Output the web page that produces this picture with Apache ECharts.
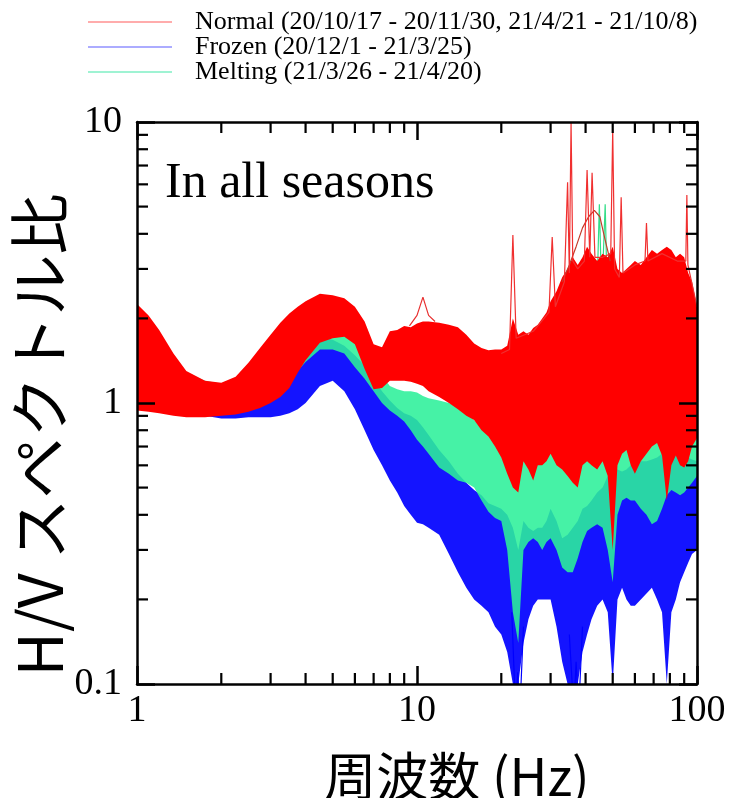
<!DOCTYPE html>
<html><head><meta charset="utf-8">
<script src="https://cdn.jsdelivr.net/npm/echarts@6/dist/echarts.min.js"></script>
<style>html,body{margin:0;padding:0;background:#fff}#c{width:731px;height:798px}</style>
</head><body><div id="c"></div>
<script>
// Frequency grid (Hz)
const freq = [1, 1.1, 1.2, 1.35, 1.5, 1.75, 2, 2.25, 2.5, 2.75,
  3, 3.25, 3.5, 3.75, 4, 4.5, 5, 5.5, 6, 6.5,
  7, 7.5, 8, 8.5, 9, 9.5, 10, 10.5, 11, 12,
  13, 14, 15, 16, 17, 18, 19, 20, 21, 22,
  23, 24, 25, 26, 27, 28, 29, 30, 31.5, 33,
  34.5, 36, 37.5, 39, 40.5, 42, 44, 46, 48, 50,
  52, 54, 56, 58, 60, 63, 66, 69, 72, 75,
  78, 81, 84, 87, 90, 93, 96, 100];

// Normal (red) envelope of the H/V curves
const normalUpper = [2.25, 2.05, 1.82, 1.5, 1.3, 1.2, 1.18, 1.24, 1.39, 1.57,
  1.75, 1.93, 2.08, 2.2, 2.3, 2.45, 2.42, 2.36, 2.2, 1.95,
  1.62, 1.58, 1.8, 1.82, 1.88, 1.86, 1.92, 1.95, 1.95, 1.93,
  1.9, 1.86, 1.75, 1.63, 1.57, 1.54, 1.55, 1.55, 1.6, 2.0,
  1.75, 1.8, 1.75, 1.85, 1.9, 2.0, 2.1, 2.3, 2.5, 2.8,
  3.0, 3.3, 3.1, 3.3, 3.6, 3.4, 3.2, 3.4, 3.3, 3.6,
  3.0, 2.9, 3.0, 3.1, 3.2, 3.1, 3.3, 3.5, 3.4, 3.5,
  3.6, 3.5, 3.3, 3.4, 3.3, 2.9, 2.7, 2.2];
const normalLower = [0.94, 0.93, 0.92, 0.9, 0.89, 0.89, 0.9, 0.91, 0.93, 0.96,
  1.0, 1.05, 1.13, 1.28, 1.42, 1.64, 1.7, 1.72, 1.62, 1.32,
  1.12, 1.13, 1.2, 1.2, 1.2, 1.19, 1.17, 1.15, 1.1, 1.05,
  1.0, 0.95, 0.9, 0.87, 0.8, 0.76, 0.7, 0.64, 0.56, 0.5,
  0.48, 0.62, 0.58, 0.53, 0.6, 0.6, 0.62, 0.66, 0.6, 0.58,
  0.55, 0.52, 0.5, 0.6, 0.62, 0.6, 0.58, 0.62, 0.55, 0.3,
  0.6, 0.66, 0.68, 0.6, 0.56, 0.62, 0.66, 0.7, 0.72, 0.65,
  0.45, 0.6, 0.65, 0.6, 0.59, 0.62, 0.7, 0.75];

// Frozen (blue) envelope
const frozenUpper = [1.7, 1.55, 1.4, 1.25, 1.15, 1.08, 1.05, 1.05, 1.08, 1.12,
  1.2, 1.3, 1.42, 1.55, 1.62, 1.72, 1.68, 1.6, 1.48, 1.36,
  1.22, 1.1, 1.02, 0.96, 0.92, 0.9, 0.87, 0.82, 0.77, 0.68,
  0.62, 0.56, 0.52, 0.49, 0.47, 0.44, 0.43, 0.42, 0.4, 0.36,
  0.3, 0.38, 0.36, 0.35, 0.36, 0.36, 0.38, 0.42, 0.38, 0.33,
  0.34, 0.36, 0.38, 0.42, 0.43, 0.45, 0.48, 0.5, 0.55, 0.59,
  0.58, 0.57, 0.58, 0.6, 0.63, 0.62, 0.62, 0.63, 0.64, 0.66,
  0.68, 0.67, 0.66, 0.65, 0.66, 0.64, 0.63, 0.62];
const frozenLower = [0.95, 0.94, 0.93, 0.92, 0.92, 0.9, 0.88, 0.88, 0.89, 0.89,
  0.89, 0.9, 0.92, 0.95, 1.0, 1.15, 1.2, 1.1, 0.95, 0.8,
  0.68, 0.6, 0.53, 0.48, 0.43, 0.4, 0.375, 0.37, 0.36, 0.34,
  0.29, 0.25, 0.22, 0.2, 0.19, 0.18, 0.16, 0.15, 0.13, 0.1,
  0.1, 0.14, 0.17, 0.19, 0.2, 0.2, 0.2, 0.2, 0.16, 0.12,
  0.1, 0.1, 0.1, 0.13, 0.15, 0.17, 0.19, 0.2, 0.18, 0.1,
  0.2, 0.22, 0.2, 0.19, 0.19, 0.2, 0.21, 0.22, 0.2, 0.18,
  0.1, 0.18, 0.2, 0.23, 0.25, 0.27, 0.29, 0.3];

// Melting (green) envelope
const meltingUpper = [1.7, 1.6, 1.5, 1.38, 1.28, 1.2, 1.17, 1.2, 1.3, 1.42,
  1.55, 1.65, 1.72, 1.78, 1.8, 1.84, 1.82, 1.75, 1.65, 1.55,
  1.42, 1.25, 1.15, 1.12, 1.1, 1.1, 1.09, 1.06, 1.04, 1.02,
  1.0, 0.97, 0.92, 0.87, 0.82, 0.78, 0.74, 0.7, 0.62, 0.55,
  0.5, 0.66, 0.68, 0.68, 0.7, 0.72, 0.74, 0.75, 0.68, 0.6,
  0.62, 0.66, 0.68, 0.72, 0.75, 0.8, 0.85, 0.85, 0.82, 0.78,
  0.78, 0.8, 0.78, 0.72, 0.7, 0.72, 0.75, 0.8, 0.82, 0.8,
  0.78, 0.78, 0.76, 0.75, 0.74, 0.76, 0.78, 0.8];
const meltingLower = [1.0, 0.98, 0.97, 0.95, 0.94, 0.93, 0.93, 0.95, 0.97, 1.0,
  1.05, 1.1, 1.2, 1.3, 1.4, 1.55, 1.55, 1.5, 1.34, 1.22,
  1.1, 1.0, 0.94, 0.9, 0.86, 0.8, 0.74, 0.7, 0.66, 0.59,
  0.56, 0.53, 0.52, 0.5, 0.45, 0.41, 0.39, 0.38, 0.3, 0.18,
  0.14, 0.3, 0.32, 0.33, 0.32, 0.3, 0.32, 0.33, 0.3, 0.26,
  0.25, 0.25, 0.28, 0.32, 0.35, 0.36, 0.37, 0.36, 0.3, 0.23,
  0.4, 0.45, 0.46, 0.45, 0.45, 0.42, 0.4, 0.37, 0.38, 0.42,
  0.47, 0.49, 0.48, 0.47, 0.48, 0.5, 0.52, 0.55];

// Individual outlying curves (spikes / humps / dips)
const normalSpikeFreq = [20, 21.4, 22, 22.6, 26, 29.6, 30.4, 31.2, 33.6, 34.5, 35.0, 35.5, 36.0, 37.5, 39.6, 40.5, 41.4, 42.2, 43.2, 46, 49.2, 50, 50.8, 52.8, 53.6, 54.4, 60, 65.2, 66, 66.8, 75, 85, 91.2, 92, 92.8, 100];
const normalSpikeVal  = [1.5, 1.55, 3.96, 1.7, 1.8, 2.1, 3.9, 2.2, 2.7, 6.1, 2.9, 10, 3.2, 3.0, 3.2, 6.75, 3.3, 6.6, 3.3, 3.3, 3.4, 9.4, 3.0, 2.8, 5.4, 2.9, 3.1, 3.2, 4.37, 3.2, 3.4, 3.2, 3.2, 5.5, 3.1, 2.2];
const normalBumpFreq = [9.4, 10.0, 10.5, 11.0, 11.6];
const normalBumpVal  = [1.88, 2.05, 2.38, 2.05, 1.95];
const normalHumpFreq = [33, 35, 37, 39, 41, 43, 45, 47, 49];
const normalHumpVal  = [2.7, 3.1, 3.6, 4.2, 4.6, 4.85, 4.6, 3.8, 3.2];
const meltingSpikeFreq = [40, 42, 44, 44.8, 45.5, 46.2, 47, 47.8, 49];
const meltingSpikeVal  = [1.0, 1.6, 2.6, 5.1, 2.8, 3.2, 5.1, 2.4, 1.3];
const frozenDip1Freq = [21.8, 22.5, 22.9, 23.3, 24];
const frozenDip1Val  = [0.18, 0.08, 0.11, 0.08, 0.16];
const frozenDip2Freq = [35.0, 36.3, 37.0, 37.8, 39];
const frozenDip2Val  = [0.15, 0.08, 0.12, 0.08, 0.16];

// Axis ticks
const xMinorTicks = [2, 3, 4, 5, 6, 7, 8, 9, 20, 30, 40, 50, 60, 70, 80, 90];
const yMinorTicks = [0.2, 0.3, 0.4, 0.5, 0.6, 0.7, 0.8, 0.9, 2, 3, 4, 5, 6, 7, 8, 9];

const legendNames = ['Normal (20/10/17 - 20/11/30, 21/4/21 - 21/10/8)', 'Frozen (20/12/1 - 21/3/25)', 'Melting (21/3/26 - 21/4/20)'];

const SERIF = '"Liberation Serif", "Times New Roman", serif';
const CJK = '"Noto Sans CJK JP", "Noto Sans", sans-serif';

function clipOf(cs) { return {type: 'rect', shape: {x: cs.x, y: cs.y, width: cs.width, height: cs.height}}; }

function band(name, upper, lower, color, opacity, z) {
  return {
    type: 'custom', name: name, z: z, silent: true,
    data: freq.map((f, i) => [f, upper[i], lower[i]]),
    encode: {x: 0, y: [1, 2]},
    renderItem: function (params, api) {
      if (params.dataIndex !== 0) return null;
      const pts = [];
      for (let i = 0; i < freq.length; i++) pts.push(api.coord([freq[i], upper[i]]));
      for (let i = freq.length - 1; i >= 0; i--) pts.push(api.coord([freq[i], lower[i]]));
      return {type: 'polygon', shape: {points: pts}, style: {fill: color, opacity: opacity},
              clipPath: clipOf(params.coordSys)};
    }
  };
}
function curve(xs, ys, color, width, z) {
  return {type: 'line', data: xs.map((x, i) => [x, ys[i]]), symbol: 'none', showSymbol: false,
          lineStyle: {color: color, width: width}, clip: true, silent: true, z: z, animation: false};
}
function tickSeries(vals, isX) {
  return {
    type: 'custom', z: 30, silent: true,
    data: vals.map(v => isX ? [v, 1] : [1, v]),
    renderItem: function (params, api) {
      const cs = params.coordSys;
      const p = api.coord([api.value(0), api.value(1)]);
      const st = {stroke: '#000', lineWidth: 2.2};
      if (isX) {
        return {type: 'group', children: [
          {type: 'line', shape: {x1: p[0], y1: cs.y + cs.height, x2: p[0], y2: cs.y + cs.height - 11}, style: st},
          {type: 'line', shape: {x1: p[0], y1: cs.y, x2: p[0], y2: cs.y + 11}, style: st}]};
      }
      return {type: 'group', children: [
        {type: 'line', shape: {x1: cs.x, y1: p[1], x2: cs.x + 11, y2: p[1]}, style: st},
        {type: 'line', shape: {x1: cs.x + cs.width, y1: p[1], x2: cs.x + cs.width - 11, y2: p[1]}, style: st}]};
    }
  };
}

const axisCommon = {
  type: 'log', logBase: 10, z: 20,
  axisLine: {show: true, lineStyle: {color: '#000', width: 2.5}},
  axisTick: {show: true, inside: true, length: 18, lineStyle: {color: '#000', width: 2.5}},
  splitLine: {show: false}, minorTick: {show: false}
};

const RED = '#ff0000', BLUE = '#0000ff', GREEN = '#2cf09a';

const option = {
  animation: false,
  backgroundColor: '#fff',
  grid: {left: 137, right: 34, top: 122, bottom: 114, containLabel: false},
  xAxis: [
    Object.assign({}, axisCommon, {min: 1, max: 100, position: 'bottom',
      axisLabel: {show: true, fontFamily: SERIF, fontSize: 38, color: '#000', margin: 8}}),
    Object.assign({}, axisCommon, {min: 1, max: 100, position: 'top', axisLabel: {show: false}})
  ],
  yAxis: [
    Object.assign({}, axisCommon, {min: 0.1, max: 10, position: 'left',
      axisLabel: {show: true, fontFamily: SERIF, fontSize: 38, color: '#000', margin: 15}}),
    Object.assign({}, axisCommon, {min: 0.1, max: 10, position: 'right', axisLabel: {show: false}})
  ],
  series: [
    band(legendNames[1], frozenUpper, frozenLower, BLUE, 0.92, 2),
    curve(frozenDip1Freq, frozenDip1Val, BLUE, 1.2, 3),
    curve(frozenDip2Freq, frozenDip2Val, BLUE, 1.2, 3),
    band(legendNames[2], meltingUpper, meltingLower, GREEN, 0.88, 4),
    curve(meltingSpikeFreq, meltingSpikeVal, '#33dd88', 1.2, 5),
    band(legendNames[0], normalUpper, normalLower, RED, 1, 6),
    curve(normalHumpFreq, normalHumpVal, '#c43a2a', 1.2, 7),
    curve(normalBumpFreq, normalBumpVal, '#e83030', 1.2, 7),
    curve(normalSpikeFreq, normalSpikeVal, '#f03030', 1.2, 8),
    tickSeries(xMinorTicks, true),
    tickSeries(yMinorTicks, false)
  ],
  graphic: [
    {type: 'line', shape: {x1: 88, y1: 22, x2: 172, y2: 22}, style: {stroke: '#ff5a5a', lineWidth: 1.2}},
    {type: 'line', shape: {x1: 88, y1: 47, x2: 172, y2: 47}, style: {stroke: '#5a5aff', lineWidth: 1.2}},
    {type: 'line', shape: {x1: 88, y1: 72, x2: 172, y2: 72}, style: {stroke: '#40e8a8', lineWidth: 1.2}},
    {type: 'text', x: 195, y: 22, style: {text: legendNames[0], font: '26px ' + SERIF, fill: '#000', textAlign: 'left', textVerticalAlign: 'middle', align: 'left', verticalAlign: 'middle'}},
    {type: 'text', x: 195, y: 47, style: {text: legendNames[1], font: '26px ' + SERIF, fill: '#000', textAlign: 'left', textVerticalAlign: 'middle', align: 'left', verticalAlign: 'middle'}},
    {type: 'text', x: 195, y: 72, style: {text: legendNames[2], font: '26px ' + SERIF, fill: '#000', textAlign: 'left', textVerticalAlign: 'middle', align: 'left', verticalAlign: 'middle'}},
    {type: 'text', x: 165, y: 184, z: 50, style: {text: 'In all seasons', font: '50px ' + SERIF, fill: '#000', textAlign: 'left', textVerticalAlign: 'middle', align: 'left', verticalAlign: 'middle'}},
    {type: 'text', x: 40, y: 435, rotation: Math.PI / 2, style: {text: 'H/V スペクトル比', font: '61px ' + CJK, fill: '#000', textAlign: 'center', textVerticalAlign: 'middle', align: 'center', verticalAlign: 'middle'}},
    {type: 'text', x: 457, y: 776, style: {text: '周波数 (Hz)', font: '52px ' + CJK, fill: '#000', textAlign: 'center', textVerticalAlign: 'middle', align: 'center', verticalAlign: 'middle'}}
  ]
};

const chart = echarts.init(document.getElementById('c'), null, {renderer: 'canvas'});
chart.setOption(option);
</script>
</body></html>
